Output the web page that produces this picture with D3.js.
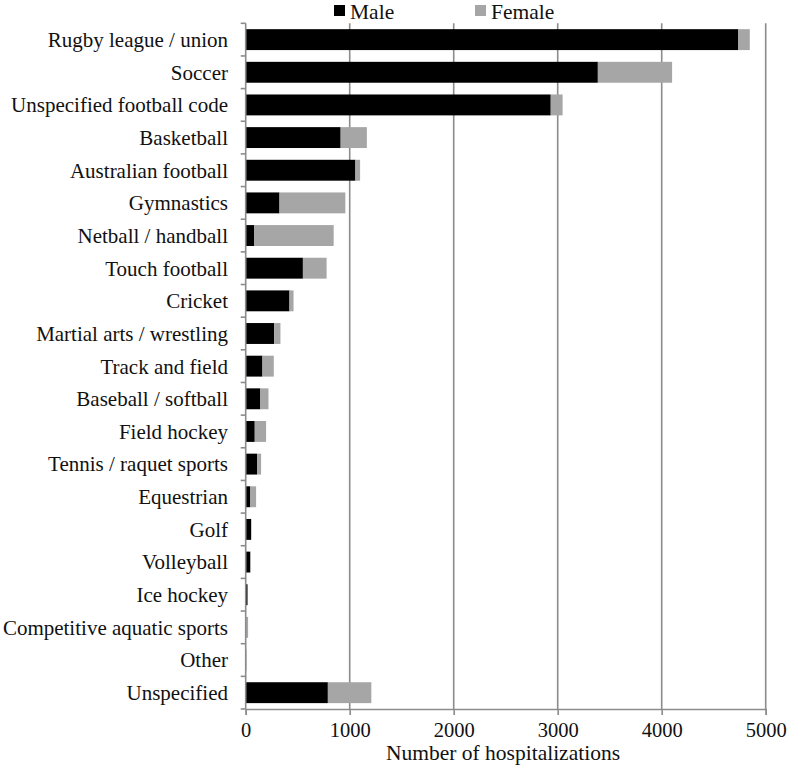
<!DOCTYPE html>
<html>
<head>
<meta charset="utf-8">
<script src="https://cdn.jsdelivr.net/npm/d3@7"></script>
<style>
  body { margin: 0; background: #fff; }
  svg { display: block; font-family: "Liberation Serif", "Times New Roman", serif; }
</style>
</head>
<body>
<svg id="chart" width="787" height="772"></svg>
<script>
const categories = [
  "Rugby league / union", "Soccer", "Unspecified football code", "Basketball",
  "Australian football", "Gymnastics", "Netball / handball", "Touch football",
  "Cricket", "Martial arts / wrestling", "Track and field", "Baseball / softball",
  "Field hockey", "Tennis / raquet sports", "Equestrian", "Golf", "Volleyball",
  "Ice hockey", "Competitive aquatic sports", "Other", "Unspecified"
];
const male   = [4737, 3386, 2933, 913, 1055, 325, 80, 550, 421, 273, 161, 141, 87, 109, 45, 51, 42, 18, 3, 2, 790];
const female = [110, 714, 114, 252, 45, 633, 766, 228, 39, 61, 109, 78, 109, 39, 55, 5, 8, 2, 20, 6, 418];
const seriesNames = ["Male", "Female"];
const seriesColors = ["#000000", "#a6a6a6"];
const xTicks = [0, 1000, 2000, 3000, 4000, 5000];
const xTitle = "Number of hospitalizations";

const svg = d3.select("#chart");
const m = { left: 245.7, right: 765.7, top: 23.3, bottom: 709 };
const grid = "#8c8c8c";

const x = d3.scaleLinear().domain([0, 5000]).range([m.left, m.right]);
const y = d3.scaleBand().domain(categories).range([m.top, m.bottom]).paddingInner(0.36).paddingOuter(0.18);
const yEdges = d3.scaleBand().domain(categories).range([m.top, m.bottom]);

const rows = categories.map((c, i) => ({ c, m: male[i], f: female[i] }));
const stack = d3.stack().keys(["m", "f"])(rows);

// gridlines
svg.append("g").selectAll("line").data(xTicks.filter(d => d > 0)).join("line")
  .attr("x1", d => x(d)).attr("x2", d => x(d))
  .attr("y1", m.top).attr("y2", m.bottom)
  .attr("stroke", grid).attr("stroke-width", 1.6);

// bars
svg.append("g").selectAll("g").data(stack).join("g")
  .attr("fill", (d, i) => seriesColors[i])
  .selectAll("rect").data(d => d).join("rect")
  .attr("x", d => x(d[0]))
  .attr("width", d => Math.max(0, x(d[1]) - x(d[0])))
  .attr("y", d => y(d.data.c))
  .attr("height", y.bandwidth());

// y axis line and ticks at band edges
const yAxisG = svg.append("g");
yAxisG.append("line").attr("x1", m.left).attr("x2", m.left).attr("y1", m.top).attr("y2", m.bottom)
  .attr("stroke", grid).attr("stroke-width", 1.6);
const edges = categories.map(c => yEdges(c)).concat([m.bottom]);
yAxisG.selectAll("line.tk").data(edges).join("line").attr("class", "tk")
  .attr("x1", m.left - 5).attr("x2", m.left).attr("y1", d => d).attr("y2", d => d)
  .attr("stroke", grid).attr("stroke-width", 1.6);
yAxisG.selectAll("text").data(categories).join("text")
  .attr("x", 228).attr("y", d => yEdges(d) + yEdges.bandwidth() / 2)
  .attr("dy", "0.35em").attr("text-anchor", "end")
  .attr("font-size", 21).attr("fill", "#111")
  .text(d => d);

// x axis
const xAxis = d3.axisBottom(x).tickValues(xTicks).tickSize(6).tickPadding(7).tickFormat(d3.format("d"));
const xg = svg.append("g").attr("transform", `translate(0,${m.bottom})`).call(xAxis);
xg.select(".domain").attr("stroke", grid).attr("stroke-width", 1.6);
xg.selectAll(".tick line").attr("stroke", grid).attr("stroke-width", 1.6);
xg.selectAll(".tick text").attr("font-size", 20.5).attr("fill", "#111")
  .attr("font-family", "Liberation Serif, Times New Roman, serif");

svg.append("text").attr("x", 503).attr("y", 760)
  .attr("text-anchor", "middle").attr("font-size", 21.5).attr("fill", "#111")
  .text(xTitle);

// legend
const legendX = [334, 475];
const lg = svg.append("g");
seriesNames.forEach((s, i) => {
  lg.append("rect").attr("x", legendX[i]).attr("y", 5).attr("width", 11).attr("height", 11).attr("fill", seriesColors[i]);
  lg.append("text").attr("x", legendX[i] + 16).attr("y", 19).attr("font-size", 21.5).attr("fill", "#111").text(s);
});
</script>
</body>
</html>
